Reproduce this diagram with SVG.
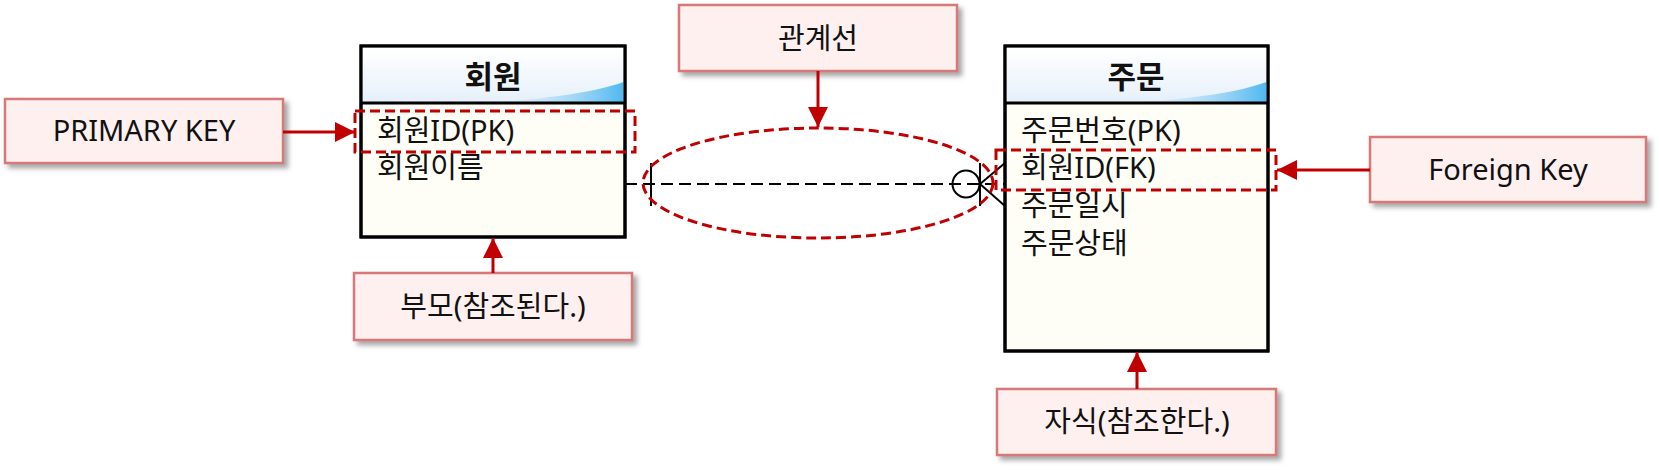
<svg xmlns="http://www.w3.org/2000/svg" width="1660" height="470" viewBox="0 0 1660 470">
<style>
.ent{fill:#FFFEF6;stroke:#000;stroke-width:3}
.hdr{fill:url(#hg)}
.sep{stroke:#000;stroke-width:3}
.title{font-family:"Noto Sans","Noto Sans CJK KR",sans-serif;font-size:31px;font-weight:bold;fill:#111;text-anchor:middle}
.attr{font-family:"Noto Sans","Noto Sans CJK KR",sans-serif;font-size:29px;fill:#111}
.lbl{fill:#FFF0F0;stroke:#D87878;stroke-width:2.5;filter:url(#sh)}
.lt{font-family:"Noto Sans","Noto Sans CJK KR",sans-serif;font-size:29px;fill:#111;text-anchor:middle}
.hl{fill:none;stroke:#C00000;stroke-width:3;stroke-dasharray:10 5}
.arr{stroke:#C00000;stroke-width:3;fill:none}
.rel{stroke:#000;stroke-width:2;fill:none}
</style>
<defs>
<linearGradient id="hg" x1="0" y1="0" x2="0" y2="1">
<stop offset="0" stop-color="#FFFFFF"/>
<stop offset="1" stop-color="#E6F0FA"/>
</linearGradient>
<linearGradient id="bw" x1="0" y1="0" x2="1" y2="0">
<stop offset="0" stop-color="#B8E0F8" stop-opacity="0"/>
<stop offset="1" stop-color="#4FB8F0"/>
</linearGradient>
<filter id="sh" x="-10%" y="-10%" width="130%" height="140%">
<feDropShadow dx="4" dy="4" stdDeviation="2.5" flood-color="#808080" flood-opacity="0.7"/>
</filter>
<marker id="ah" viewBox="0 0 10 10" refX="10" refY="5" markerWidth="20" markerHeight="20" markerUnits="userSpaceOnUse" orient="auto">
<path d="M0,0 L10,5 L0,10 Z" fill="#C00000"/>
</marker>
</defs>

<g id="connectors">
<line class="rel" x1="625" y1="184" x2="1005" y2="184" stroke-dasharray="12 6"/>
<line class="rel" x1="651" y1="163" x2="651" y2="206"/>
<circle class="rel" cx="966" cy="184" r="13.5" fill="#fff"/>
<line class="rel" x1="980" y1="163" x2="980" y2="206"/>
<line class="rel" x1="980" y1="184" x2="1005" y2="163"/>
<line class="rel" x1="980" y1="184" x2="1005" y2="206"/>
</g>

<g id="entity-member">
<rect class="ent" x="361" y="46" width="264" height="191"/>
<rect class="hdr" x="362.5" y="47.5" width="261" height="55"/>
<path d="M490,102 C550,99 595,92 623.5,82 L623.5,102 Z" fill="url(#bw)"/>
<line class="sep" x1="361" y1="103" x2="625" y2="103"/>
<rect x="361" y="46" width="264" height="191" fill="none" stroke="#000" stroke-width="3"/>
<text class="title" x="493" y="88">회원</text>
<text class="attr" x="377" y="141">회원ID(PK)</text>
<text class="attr" x="377" y="178">회원이름</text>
</g>

<g id="entity-order">
<rect class="ent" x="1005" y="46" width="263" height="305"/>
<rect class="hdr" x="1006.5" y="47.5" width="260" height="55"/>
<path d="M1134,102 C1194,99 1239,92 1266.5,82 L1266.5,102 Z" fill="url(#bw)"/>
<line class="sep" x1="1005" y1="103" x2="1268" y2="103"/>
<rect x="1005" y="46" width="263" height="305" fill="none" stroke="#000" stroke-width="3"/>
<text class="title" x="1136" y="88">주문</text>
<text class="attr" x="1021" y="141">주문번호(PK)</text>
<text class="attr" x="1021" y="178">회원ID(FK)</text>
<text class="attr" x="1021" y="216">주문일시</text>
<text class="attr" x="1021" y="254">주문상태</text>
</g>

<g id="highlights">
<rect class="hl" x="355" y="111" width="280" height="41"/>
<rect class="hl" x="996" y="150" width="280" height="40"/>
<ellipse class="hl" cx="818" cy="183" rx="175" ry="55"/>
</g>

<g id="label-pk">
<rect class="lbl" x="5" y="99" width="278" height="64"/>
<text class="lt" x="144" y="141">PRIMARY KEY</text>
</g>
<g id="label-rel">
<rect class="lbl" x="679" y="5" width="278" height="66"/>
<text class="lt" x="818" y="49">관계선</text>
</g>
<g id="label-fk">
<rect class="lbl" x="1370" y="137" width="276" height="65"/>
<text class="lt" x="1508" y="180">Foreign Key</text>
</g>
<g id="label-parent">
<rect class="lbl" x="354" y="273" width="278" height="67"/>
<text class="lt" x="493" y="317">부모(참조된다.)</text>
</g>
<g id="label-child">
<rect class="lbl" x="997" y="389" width="279" height="66"/>
<text class="lt" x="1137" y="432">자식(참조한다.)</text>
</g>

<g id="label-arrows">
<line class="arr" x1="283" y1="132" x2="355" y2="132" marker-end="url(#ah)"/>
<line class="arr" x1="818" y1="71" x2="818" y2="127" marker-end="url(#ah)"/>
<line class="arr" x1="1370" y1="170" x2="1277" y2="170" marker-end="url(#ah)"/>
<line class="arr" x1="493" y1="273" x2="493" y2="238" marker-end="url(#ah)"/>
<line class="arr" x1="1137" y1="389" x2="1137" y2="352" marker-end="url(#ah)"/>
</g>
</svg>
